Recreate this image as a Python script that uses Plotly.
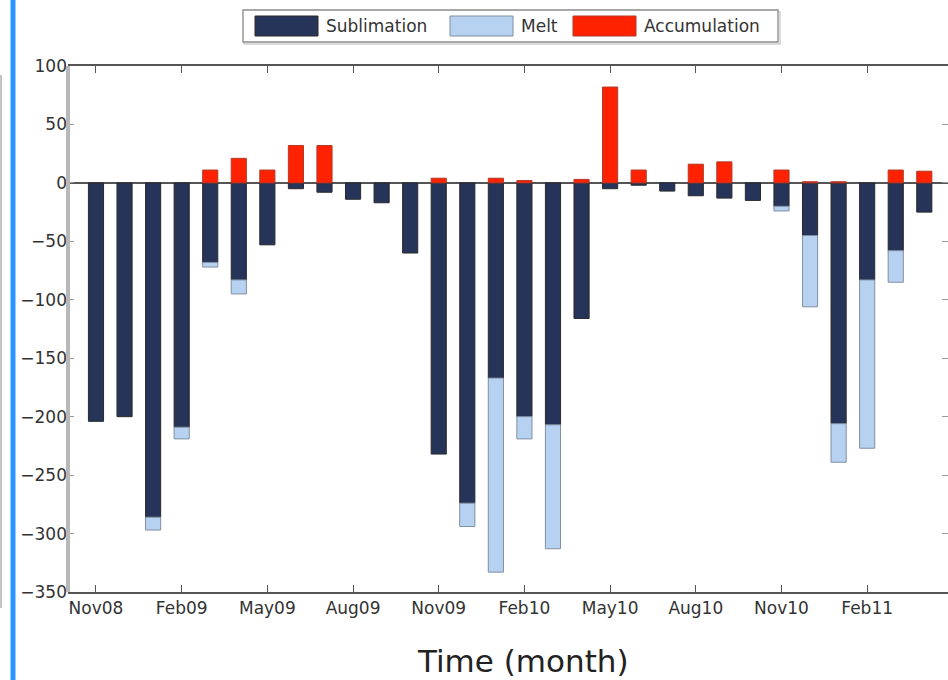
import plotly.graph_objects as go

# Monthly mass-balance components (mm w.e.)
months = ["Nov08", "Dec08", "Jan09", "Feb09", "Mar09", "Apr09", "May09", "Jun09",
          "Jul09", "Aug09", "Sep09", "Oct09", "Nov09", "Dec09", "Jan10", "Feb10",
          "Mar10", "Apr10", "May10", "Jun10", "Jul10", "Aug10", "Sep10", "Oct10",
          "Nov10", "Dec10", "Jan11", "Feb11", "Mar11", "Apr11"]

sublimation = [-204, -200, -286, -209, -68, -83, -53, -5, -8, -14, -17, -60,
               -232, -274, -167, -200, -207, -116, -5, -2, -7, -11, -13, -15,
               -20, -45, -206, -83, -58, -25]

melt = [0, 0, -11, -10, -4, -12, 0, 0, 0, 0, 0, 0,
        0, -20, -166, -19, -106, 0, 0, 0, 0, 0, 0, 0,
        -4, -61, -33, -144, -27, 0]

accumulation = [0, 0, 0, 0, 11, 21, 11, 32, 32, 0, 0, 0,
                4, 0, 4, 2, 0, 3, 82, 11, 0, 16, 18, 0,
                11, 1, 1, 0, 11, 10]

tick_every = 3
y_ticks = [100, 50, 0, -50, -100, -150, -200, -250, -300, -350]

NAVY = "#26345a"
LIGHT = "#b7d2f0"
RED = "#ff2200"
FONT = "DejaVu Sans"

idx = list(range(len(months)))


def nz(vals):
    return [v if v != 0 else None for v in vals]


fig = go.Figure()
fig.add_trace(go.Bar(x=idx, y=nz(sublimation), name="Sublimation", width=0.53,
                     marker=dict(color=NAVY, line=dict(color="#2a2a2a", width=1))))
fig.add_trace(go.Bar(x=idx, y=nz(melt), name="Melt", width=0.53,
                     marker=dict(color=LIGHT, line=dict(color="#7f8ea3", width=1))))
fig.add_trace(go.Bar(x=idx, y=nz(accumulation), name="Accumulation", width=0.53,
                     marker=dict(color=RED, line=dict(color="#b03a2a", width=1))))

# plot area in pixels: left 68, right 948, top 66, bottom 592
L, R, T, B = 68, 948, 66, 592


def px(x):
    return (x - L) / (R - L)


def py(y):
    return (B - y) / (B - T)


shapes = []
annotations = []

# left axis spine (light gray, thick)
shapes.append(dict(type="line", xref="paper", yref="paper", x0=px(68), x1=px(68),
                   y0=0, y1=1, line=dict(color="#b8b8b8", width=4)))
# page edge strips
shapes.append(dict(type="line", xref="paper", yref="paper", x0=px(13), x1=px(13),
                   y0=py(0), y1=py(680), line=dict(color="#2a96ff", width=5)))
shapes.append(dict(type="line", xref="paper", yref="paper", x0=px(1), x1=px(1),
                   y0=py(75), y1=py(608), line=dict(color="#b0b0b0", width=1.5)))

# legend box
shapes.append(dict(type="rect", xref="paper", yref="paper", x0=px(244), x1=px(780),
                   y0=py(12), y1=py(44), line=dict(color="#d0d0d0", width=1.5),
                   fillcolor="white"))
shapes.append(dict(type="rect", xref="paper", yref="paper", x0=px(243), x1=px(778),
                   y0=py(10), y1=py(42), line=dict(color="#8a8a8a", width=1.3),
                   fillcolor="white"))
legend_items = [("Sublimation", NAVY, "#2a2a2a", 255),
                ("Melt", LIGHT, "#7f8ea3", 450),
                ("Accumulation", RED, "#b03a2a", 573)]
for label, fill, edge, x0 in legend_items:
    shapes.append(dict(type="rect", xref="paper", yref="paper", x0=px(x0), x1=px(x0 + 63),
                       y0=py(16), y1=py(36), fillcolor=fill, line=dict(color=edge, width=1)))
    annotations.append(dict(xref="paper", yref="paper", x=px(x0 + 69), y=py(26),
                            xanchor="left", yanchor="middle", showarrow=False,
                            text=label, font=dict(family=FONT, size=17, color="#333")))

# x-axis title
annotations.append(dict(xref="paper", yref="paper", x=px(523), y=py(661),
                        xanchor="center", yanchor="middle", showarrow=False,
                        text="Time (month)", font=dict(family=FONT, size=31, color="#222")))

fig.update_layout(
    width=948, height=680,
    margin=dict(l=L, r=0, t=T, b=680 - B, pad=0),
    paper_bgcolor="white", plot_bgcolor="white",
    barmode="relative", showlegend=False,
    font=dict(family=FONT, size=17, color="#333"),
    shapes=shapes, annotations=annotations,
    xaxis=dict(range=[-0.98, 29.83], tickmode="array",
               tickvals=idx[::tick_every], ticktext=months[::tick_every],
               ticks="inside", ticklen=7, tickcolor="#555", tickwidth=1,
               showline=True, linecolor="#555", linewidth=2, mirror="ticks",
               showgrid=False, zeroline=False,
               tickfont=dict(family=FONT, size=17, color="#333")),
    yaxis=dict(range=[-350, 100], tickmode="array", tickvals=y_ticks,
               ticks="inside", ticklen=6, tickcolor="#999", tickwidth=1,
               showline=False, mirror="ticks", showgrid=False,
               zeroline=True, zerolinecolor="#555", zerolinewidth=1.5,
               tickfont=dict(family=FONT, size=17, color="#333")),
)

fig.write_html("out.html")
